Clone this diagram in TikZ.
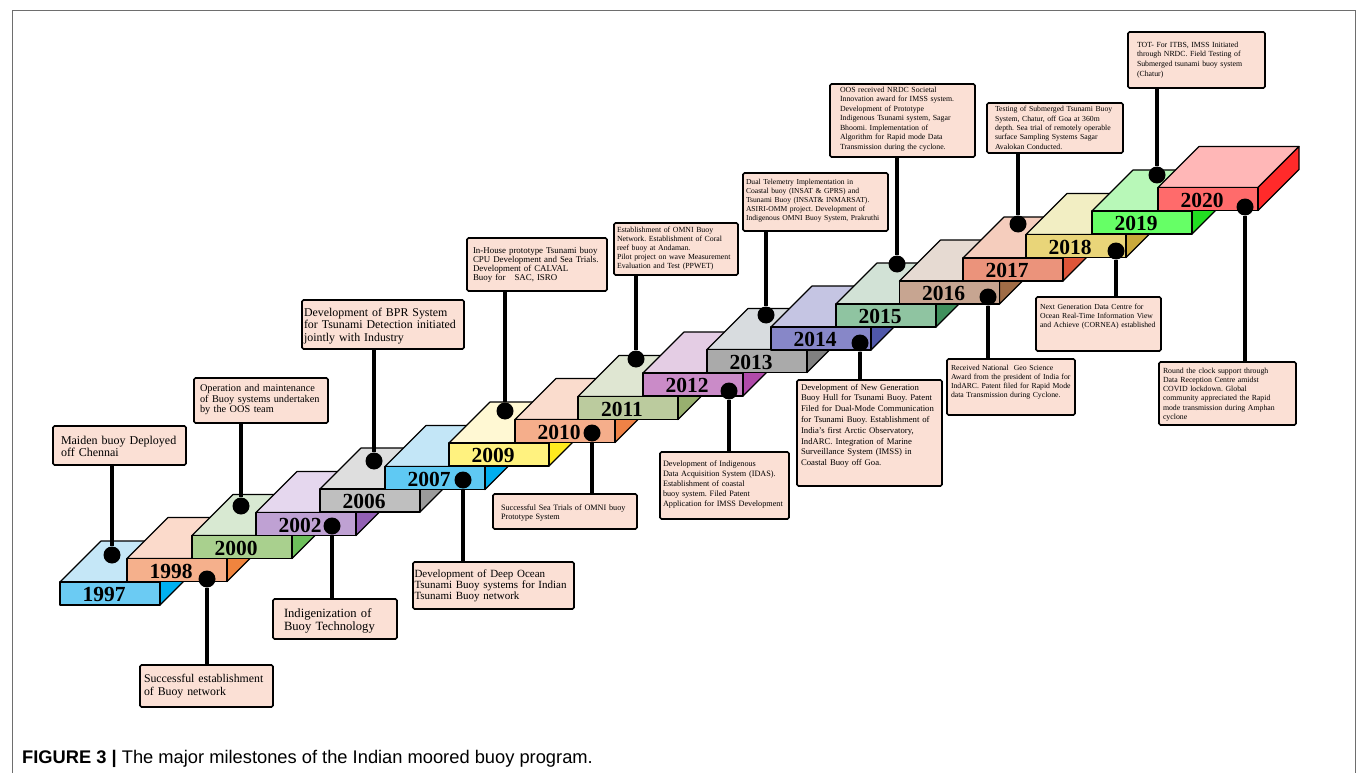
\documentclass[tikz,border=0pt]{standalone}
\usepackage{fontspec}
\setmainfont{Liberation Serif}
\newfontfamily\capfont{Liberation Sans}
\usepackage{tikz}
\definecolor{notefill}{HTML}{FBE0D5}
\definecolor{framegray}{HTML}{6E6E6E}
\definecolor{front1997}{HTML}{6BCBF3}\definecolor{top1997}{HTML}{C5E7F7}\definecolor{side1997}{HTML}{00B0F0}
\definecolor{front1998}{HTML}{F5B08C}\definecolor{top1998}{HTML}{FBDACB}\definecolor{side1998}{HTML}{F0843E}
\definecolor{front2000}{HTML}{A9D08E}\definecolor{top2000}{HTML}{D8E9D2}\definecolor{side2000}{HTML}{6DC05B}
\definecolor{front2002}{HTML}{BFA1D3}\definecolor{top2002}{HTML}{E5D7EE}\definecolor{side2002}{HTML}{9260B4}
\definecolor{front2006}{HTML}{BFBFBF}\definecolor{top2006}{HTML}{DEDEDE}\definecolor{side2006}{HTML}{9B9B9B}
\definecolor{front2007}{HTML}{5FC9F3}\definecolor{top2007}{HTML}{C3E6F7}\definecolor{side2007}{HTML}{00AEEF}
\definecolor{front2009}{HTML}{FFF27F}\definecolor{top2009}{HTML}{FFF8D3}\definecolor{side2009}{HTML}{FFEA1F}
\definecolor{front2010}{HTML}{F5AE8B}\definecolor{top2010}{HTML}{FADCCD}\definecolor{side2010}{HTML}{EF8246}
\definecolor{front2011}{HTML}{BBCB9E}\definecolor{top2011}{HTML}{DFE6D2}\definecolor{side2011}{HTML}{98B06F}
\definecolor{front2012}{HTML}{CA8BC8}\definecolor{top2012}{HTML}{E4CDE4}\definecolor{side2012}{HTML}{B04AAA}
\definecolor{front2013}{HTML}{AAAAAA}\definecolor{top2013}{HTML}{D8DCDF}\definecolor{side2013}{HTML}{808080}
\definecolor{front2014}{HTML}{8787C8}\definecolor{top2014}{HTML}{C5C5E3}\definecolor{side2014}{HTML}{5058AA}
\definecolor{front2015}{HTML}{8FC4A1}\definecolor{top2015}{HTML}{D2E2D6}\definecolor{side2015}{HTML}{40905D}
\definecolor{front2016}{HTML}{C7A591}\definecolor{top2016}{HTML}{E6DAD2}\definecolor{side2016}{HTML}{9F6C46}
\definecolor{front2017}{HTML}{EB937B}\definecolor{top2017}{HTML}{F5CDBD}\definecolor{side2017}{HTML}{DE5539}
\definecolor{front2018}{HTML}{E9D579}\definecolor{top2018}{HTML}{F2EEC3}\definecolor{side2018}{HTML}{CAA93B}
\definecolor{front2019}{HTML}{66FF66}\definecolor{top2019}{HTML}{B8F8B8}\definecolor{side2019}{HTML}{22E022}
\definecolor{front2020}{HTML}{FF6B6B}\definecolor{top2020}{HTML}{FFB7B7}\definecolor{side2020}{HTML}{FF2A2A}
\tikzset{
  blockline/.style={
    draw=black,
    line width=1.2pt,
    line join=round
  },
  yearlabel/.style={
    font=\fontsize{21.5}{22}\selectfont\bfseries,
    inner sep=0pt
  },
  notebox/.style={
    draw=black,
    line width=1.6pt,
    fill=notefill,
    rounded corners=1.5pt,
    anchor=north west,
    align=left,
    inner ysep=0pt,
    outer sep=0pt
  },
  buoydot/.style={
    circle,
    fill=black,
    minimum size=17pt,
    inner sep=0pt
  },
  stem/.style={
    line width=3.8pt,
    draw=black
  }
}
% one step of the staircase: front top-left corner (x,y), year
\newcommand{\buoystep}[3]{%
  \filldraw[blockline, fill=top#3] (#1,#2) -- ++(41,-41) -- ++(100,0) -- ++(-41,41) -- cycle;
  \filldraw[blockline, fill=side#3] (#1+100,#2) -- ++(41,-41) -- ++(0,23) -- ++(-41,41) -- cycle;
  \filldraw[blockline, fill=front#3] (#1,#2) rectangle ++(100,23);
  \node[yearlabel] (y#3) at (#1+44,#2+12.5) {#3};
}

\begin{document}
\frenchspacing
\hyphenpenalty=10000
\exhyphenpenalty=10000
\begin{tikzpicture}[x=1pt, y=-1pt]
    \useasboundingbox (0,0) rectangle (1358,773);
    \draw[framegray, line width=0.8pt] (12,773) -- (12,10) -- (1355,10) -- (1355,773);

    % staircase
    \buoystep{60}{582}{1997}
    \buoystep{127}{558.5}{1998}
    \buoystep{192}{535.5}{2000}
    \buoystep{256}{512.5}{2002}
    \buoystep{320}{489}{2006}
    \buoystep{385}{466.5}{2007}
    \buoystep{449}{443}{2009}
    \buoystep{515}{419.5}{2010}
    \buoystep{578}{396.5}{2011}
    \buoystep{643}{373}{2012}
    \buoystep{707}{349.5}{2013}
    \buoystep{771}{327}{2014}
    \buoystep{836}{304}{2015}
    \buoystep{899.5}{281}{2016}
    \buoystep{963}{258}{2017}
    \buoystep{1026}{234.5}{2018}
    \buoystep{1092}{211}{2019}
    \buoystep{1158}{187.5}{2020}

    % milestone boxes
    \node[notebox, inner xsep=8pt, text width=117pt, text height=18.5pt, text depth=20.5pt, font=\fontsize{12}{12}\selectfont] (b1997) at (53,426) {Maiden buoy Deployed\\off Chennai};
    \node[notebox, inner xsep=4pt, text width=125pt, text height=17.7pt, text depth=24.3pt, font=\fontsize{11.8}{12.3}\selectfont] (b1998) at (140,665) {Successful establishment\\of Buoy network};
    \node[notebox, inner xsep=6pt, text width=122pt, text height=13.7pt, text depth=31.3pt, font=\fontsize{10.3}{10.5}\selectfont] (b2000) at (194,378) {Operation and maintenance\\of Buoy systems undertaken\\by the OOS team};
    \node[notebox, inner xsep=11pt, text width=102pt, text height=18.3pt, text depth=21.7pt, font=\fontsize{12.6}{13}\selectfont] (b2002) at (273,599) {Indigenization of\\Buoy Technology};
    \node[notebox, inner xsep=2pt, text width=158pt, text height=16pt, text depth=33pt, font=\fontsize{11.9}{12.5}\selectfont] (b2006) at (302,300) {Development of BPR System\\for Tsunami Detection initiated\\jointly with Industry};
    \node[notebox, inner xsep=1.5pt, text width=158pt, text height=15.3pt, text depth=31.7pt, font=\fontsize{11}{11}\selectfont] (b2007) at (413,562) {Development of Deep Ocean\\Tsunami Buoy systems for Indian\\Tsunami Buoy network};
    \node[notebox, inner xsep=6pt, text width=128pt, text height=15.3pt, text depth=37.7pt, font=\fontsize{8.9}{9.1}\selectfont] (b2009) at (467,238) {In-House prototype Tsunami buoy\\CPU Development and Sea Trials.\\Development of CALVAL\\Buoy for\ \ \ SAC, ISRO};
    \node[notebox, inner xsep=8pt, text width=128pt, text height=16pt, text depth=19pt, font=\fontsize{8.2}{9}\selectfont] (b2010) at (493,494) {Successful Sea Trials of OMNI buoy\\Prototype System};
    \node[notebox, inner xsep=3pt, text width=118pt, text height=9.7pt, text depth=42.3pt, font=\fontsize{7.8}{9}\selectfont] (b2011) at (614,223) {Establishment of OMNI Buoy\\Network. Establishment of Coral\\reef buoy at Andaman.\\Pilot project on wave Measurement\\Evaluation and Test (PPWET)};
    \node[notebox, inner xsep=3pt, text width=123pt, text height=14pt, text depth=53pt, font=\fontsize{8.2}{10}\selectfont] (b2012) at (660,452) {Development of Indigenous\\Data Acquisition System (IDAS).\\Establishment of coastal\\buoy system. Filed Patent\\Application for IMSS Development};
    \node[notebox, inner xsep=3pt, text width=139pt, text height=11.3pt, text depth=46.7pt, font=\fontsize{7.6}{9}\selectfont] (b2013) at (743,173) {Dual Telemetry Implementation in\\Coastal buoy (INSAT \& GPRS) and\\Tsunami Buoy (INSAT\& INMARSAT).\\ASIRI-OMM project. Development of\\Indigenous OMNI Buoy System, Prakruthi};
    \node[notebox, inner xsep=4pt, text width=137pt, text height=10pt, text depth=96pt, font=\fontsize{8.7}{10.8}\selectfont] (b2014) at (797,380) {Development of New Generation\\Buoy Hull for Tsunami Buoy. Patent\\Filed for Dual-Mode Communication\\for Tsunami Buoy. Establishment of\\India’s first Arctic Observatory,\\IndARC. Integration of Marine\\Surveillance System (IMSS) in\\Coastal Buoy off Goa.};
    \node[notebox, inner xsep=10pt, text width=125pt, text height=8.3pt, text depth=64.7pt, font=\fontsize{7.8}{9.5}\selectfont] (b2015) at (830,84) {OOS received NRDC Societal\\Innovation award for IMSS system.\\Development of Prototype\\Indigenous Tsunami system, Sagar\\Bhoomi. Implementation of\\Algorithm for Rapid mode Data\\Transmission during the cyclone.};
    \node[notebox, inner xsep=4pt, text width=120pt, text height=11pt, text depth=45pt, font=\fontsize{7.7}{9.3}\selectfont] (b2016) at (947,359) {Received National\ \ Geo Science\\Award from the president of India for\\IndARC. Patent filed for Rapid Mode\\data Transmission during Cyclone.};
    \node[notebox, inner xsep=8pt, text width=120pt, text height=9pt, text depth=41pt, font=\fontsize{7.7}{9.3}\selectfont] (b2017) at (987,103) {Testing of Submerged Tsunami Buoy\\System, Chatur, off Goa at 360m\\depth. Sea trial of remotely operable\\surface Sampling Systems Sagar\\Avalokan Conducted.};
    \node[notebox, inner xsep=4pt, text width=117pt, text height=12.3pt, text depth=41.7pt, font=\fontsize{7.7}{9.3}\selectfont] (b2018) at (1036,297) {Next Generation Data Centre for\\Ocean Real-Time Information View\\and Achieve (CORNEA) established};
    \node[notebox, inner xsep=9pt, text width=119pt, text height=15.3pt, text depth=40.7pt, font=\fontsize{7.8}{9.7}\selectfont] (b2019) at (1128,32) {TOT- For ITBS, IMSS Initiated\\through NRDC. Field Testing of\\Submerged tsunami buoy system\\(Chatur)};
    \node[notebox, inner xsep=4pt, text width=129pt, text height=11.3pt, text depth=51.7pt, font=\fontsize{7.8}{9.2}\selectfont] (b2020) at (1159,362) {Round the clock support through\\Data Reception Centre amidst\\COVID lockdown. Global\\community appreciated the Rapid\\mode transmission during Amphan\\cyclone};

    % dots on the steps
    \node[buoydot] (d1997) at (112,555) {};
    \node[buoydot] (d1998) at (207,579) {};
    \node[buoydot] (d2000) at (241,506) {};
    \node[buoydot] (d2002) at (332,526) {};
    \node[buoydot] (d2006) at (374,461) {};
    \node[buoydot] (d2007) at (463,480) {};
    \node[buoydot] (d2009) at (505,411) {};
    \node[buoydot] (d2010) at (592,433) {};
    \node[buoydot] (d2011) at (636,359) {};
    \node[buoydot] (d2012) at (729,391) {};
    \node[buoydot] (d2013) at (766,315) {};
    \node[buoydot] (d2014) at (860,343) {};
    \node[buoydot] (d2015) at (897,264) {};
    \node[buoydot] (d2016) at (988,297) {};
    \node[buoydot] (d2017) at (1018,224) {};
    \node[buoydot] (d2018) at (1116,251) {};
    \node[buoydot] (d2019) at (1157,175) {};
    \node[buoydot] (d2020) at (1245,207) {};

    \draw[stem] (d1997) -- (d1997 |- b1997.south);
    \draw[stem] (d1998) -- (d1998 |- b1998.north);
    \draw[stem] (d2000) -- (d2000 |- b2000.south);
    \draw[stem] (d2002) -- (d2002 |- b2002.north);
    \draw[stem] (d2006) -- (d2006 |- b2006.south);
    \draw[stem] (d2007) -- (d2007 |- b2007.north);
    \draw[stem] (d2009) -- (d2009 |- b2009.south);
    \draw[stem] (d2010) -- (d2010 |- b2010.north);
    \draw[stem] (d2011) -- (d2011 |- b2011.south);
    \draw[stem] (d2012) -- (d2012 |- b2012.north);
    \draw[stem] (d2013) -- (d2013 |- b2013.south);
    \draw[stem] (d2014) -- (d2014 |- b2014.north);
    \draw[stem] (d2015) -- (d2015 |- b2015.south);
    \draw[stem] (d2016) -- (d2016 |- b2016.north);
    \draw[stem] (d2017) -- (d2017 |- b2017.south);
    \draw[stem] (d2018) -- (d2018 |- b2018.north);
    \draw[stem] (d2019) -- (d2019 |- b2019.south);
    \draw[stem] (d2020) -- (d2020 |- b2020.north);

    \node[anchor=base west, inner sep=0pt, font=\capfont\fontsize{18.3}{20}\selectfont] (caption) at (22,763) {\textbf{FIGURE 3 |} The major milestones of the Indian moored buoy program.};
\end{tikzpicture}
\end{document}
